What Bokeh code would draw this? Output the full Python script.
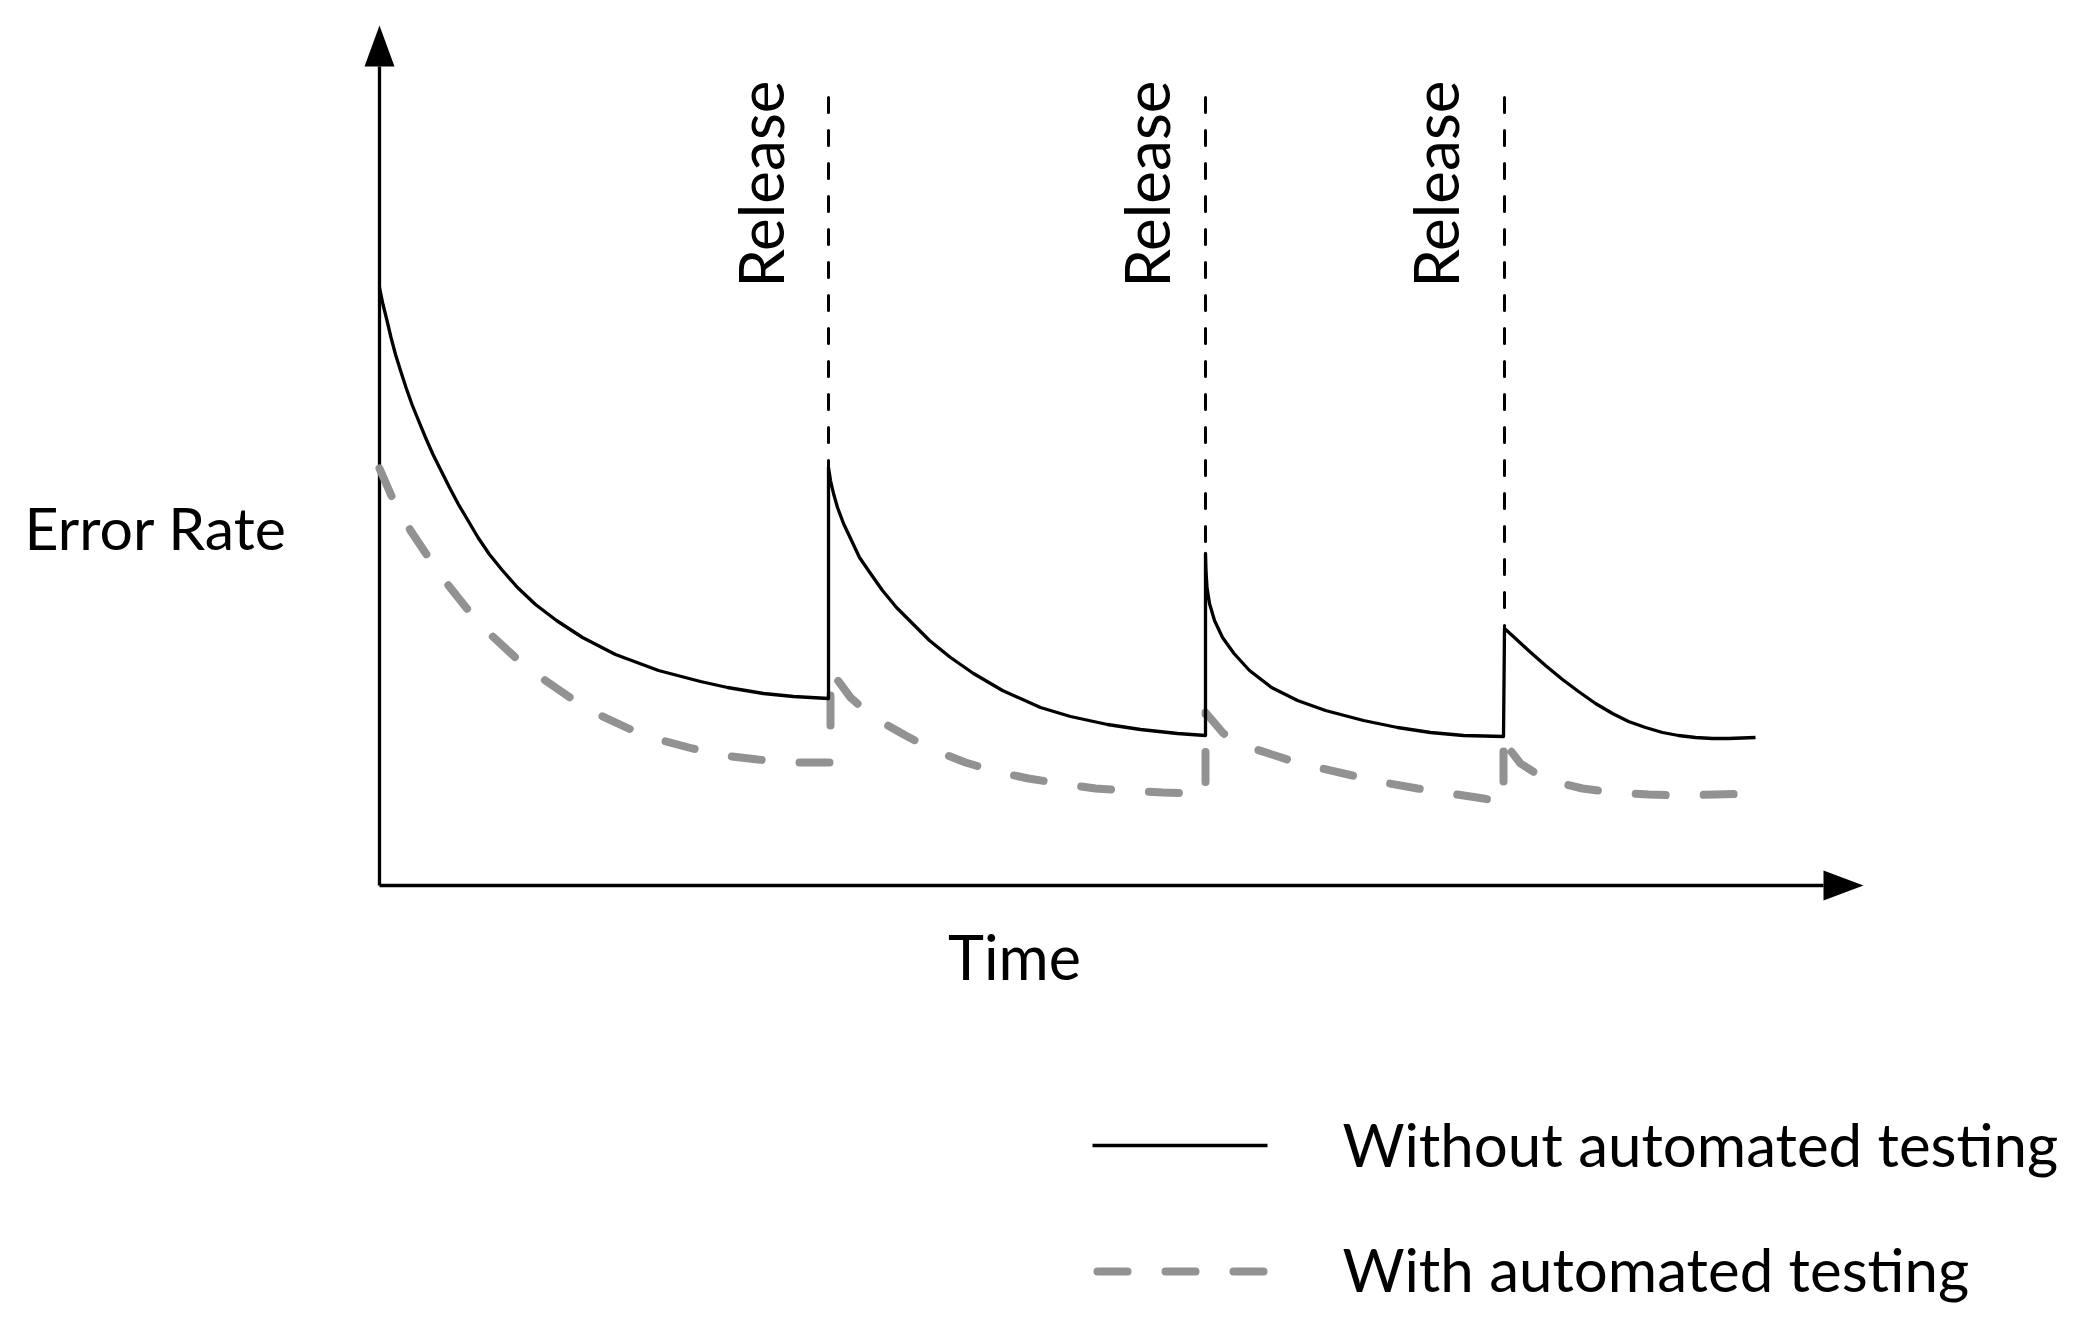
import math
from bokeh.plotting import figure
from bokeh.models import Range1d
from bokeh.embed import file_html
from bokeh.resources import INLINE
from bokeh.core.properties import value

# ---------------- data (time units, error-rate units) ----------------
t_without = [0.00, 0.035, 0.075, 0.115, 0.16, 0.21, 0.265, 0.325, 0.39, 0.46, 0.535, 0.615, 0.70, 0.79,
             0.885, 0.985, 1.10, 1.23, 1.38, 1.56, 1.77, 2.03, 2.36, 2.79, 3.21, 3.48, 3.84, 4.14, 4.49,
             4.49, 4.51, 4.54, 4.58, 4.64, 4.72, 4.80, 4.91, 5.03, 5.17, 5.33, 5.50, 5.71, 5.94,
             6.23, 6.61, 6.91, 7.28, 7.61, 7.98, 8.26,
             8.26, 8.265, 8.275, 8.30, 8.35, 8.43, 8.545, 8.70, 8.92, 9.18, 9.46, 9.84, 10.18, 10.51,
             10.84, 11.24,
             11.25, 11.36, 11.49, 11.66, 11.83, 11.99, 12.16, 12.33, 12.49, 12.66, 12.83, 12.99,
             13.16, 13.33, 13.49, 13.76]
e_without = [5.98, 5.81, 5.65, 5.48, 5.31, 5.15, 4.98, 4.81, 4.65, 4.48, 4.31, 4.15, 3.98, 3.81,
             3.65, 3.48, 3.31, 3.15, 2.98, 2.81, 2.65, 2.48, 2.31, 2.15, 2.04, 1.98, 1.92, 1.89, 1.87,
             4.18, 4.05, 3.92, 3.78, 3.62, 3.45, 3.28, 3.12, 2.95, 2.78, 2.62, 2.45, 2.28, 2.12,
             1.95, 1.78, 1.69, 1.61, 1.56, 1.52, 1.50,
             3.32, 3.15, 2.98, 2.82, 2.65, 2.48, 2.32, 2.15, 1.98, 1.85, 1.75, 1.65, 1.58, 1.53,
             1.50, 1.49,
             2.57, 2.47, 2.35, 2.20, 2.06, 1.94, 1.82, 1.72, 1.64, 1.58, 1.53, 1.50,
             1.48, 1.47, 1.47, 1.48]

t_with = [0.00, 0.14, 0.31, 0.49, 0.69, 0.89, 1.11, 1.36, 1.63, 1.89, 2.19, 2.49, 2.79, 3.13, 3.44, 3.78, 4.11, 4.51,
          4.51, 4.71, 4.94, 5.26, 5.53, 5.86, 6.16, 6.49, 6.81, 7.16, 7.48, 7.83, 8.26,
          8.26, 8.44, 8.74, 9.08, 9.38, 9.73, 10.04, 10.38, 10.71, 11.04, 11.24,
          11.24, 11.31, 11.41, 11.66, 12.03, 12.33, 12.69, 12.99, 13.36, 13.76]
e_with = [4.17, 3.85, 3.55, 3.28, 3.00, 2.75, 2.51, 2.28, 2.07, 1.89, 1.71, 1.57, 1.46, 1.37, 1.30, 1.26, 1.23, 1.23,
          2.15, 1.88, 1.68, 1.50, 1.36, 1.23, 1.14, 1.07, 1.02, 0.97, 0.95, 0.93, 0.92,
          1.73, 1.52, 1.37, 1.26, 1.18, 1.10, 1.03, 0.97, 0.92, 0.87, 0.83,
          1.52, 1.35, 1.22, 1.06, 0.97, 0.93, 0.91, 0.90, 0.91, 0.92]

release_t = [4.49, 8.26, 11.25]
release_peak = [4.18, 3.32, 2.57]
release_top = 7.88
release_text = "Release"

y_label = "Error Rate"
x_label = "Time"
legend_labels = ["Without automated testing", "With automated testing"]

# ---------------- layout ----------------
W, H = 2067, 1321
PX = 100.0                 # pixels per data unit
OX, OY = 379, 885          # axis origin on the page (px)


def sx(px):
    return (px - OX) / PX


def sy(py):
    return (OY - py) / PX


FONT = "Lato"
BLACK = "#000000"
GREY = "#929292"
SHIFT = 0.42               # empirical baseline compensation (em)

p = figure(width=W, height=H, output_backend="svg", toolbar_location=None,
           x_axis_type=None, y_axis_type=None, min_border=0,
           x_range=Range1d(sx(0), sx(W)), y_range=Range1d(sy(H), sy(0)))
p.grid.visible = False
p.outline_line_color = None
p.background_fill_color = "white"
p.border_fill_color = "white"

# axes with arrow heads
p.line([0, 0], [0, sy(66)], line_color=BLACK, line_width=3.3)
p.line([0, sx(1823)], [0, 0], line_color=BLACK, line_width=3.3)
p.patch([sx(379 - 15), sx(379 + 15), 0], [sy(66), sy(66), sy(25)], fill_color=BLACK, line_color=None)
p.patch([sx(1823), sx(1823), sx(1863)], [sy(885 - 15), sy(885 + 15), 0], fill_color=BLACK, line_color=None)

# release markers
p.segment(x0=release_t, y0=[release_top] * len(release_t), x1=release_t, y1=release_peak,
          line_color=BLACK, line_width=3, line_dash="15 18", line_cap="round")

# series
p.line(t_with, e_with, line_color=GREY, line_width=8, line_dash="30 38",
       line_cap="round", line_join="round")
p.line(t_without, e_without, line_color=BLACK, line_width=3.3, line_join="round")

# release labels (rotated, baseline on the right)
fs_rel = 62
label_off_px = [-42, -33, -43]
p.text(x=[r + (o - SHIFT * fs_rel) / PX for r, o in zip(release_t, label_off_px)], y=[sy(80)] * 3,
       text=[release_text] * 3, angle=math.pi / 2,
       text_align="right", text_baseline="alphabetic",
       text_font=value(FONT), text_font_size=f"{fs_rel}px", text_color=BLACK)

# axis titles
fs_y, fs_x = 59, 61
p.text(x=[sx(24)], y=[sy(552 - SHIFT * fs_y)], text=[y_label], text_align="left",
       text_baseline="alphabetic", text_font=value(FONT), text_font_size=f"{fs_y}px", text_color=BLACK)
p.text(x=[sx(1014)], y=[sy(982 - SHIFT * fs_x)], text=[x_label], text_align="center",
       text_baseline="alphabetic", text_font=value(FONT), text_font_size=f"{fs_x}px", text_color=BLACK)

# legend (manual)
fs_leg = 60
p.line([sx(1092), sx(1267)], [sy(1145)] * 2, line_color=BLACK, line_width=3.3)
p.line([sx(1097), sx(1263)], [sy(1271)] * 2, line_color=GREY, line_width=8, line_dash="30 38",
       line_cap="round")
p.text(x=[sx(1342)] * 2, y=[sy(1169 - SHIFT * fs_leg), sy(1294 - SHIFT * fs_leg)], text=legend_labels,
       text_align="left", text_baseline="alphabetic",
       text_font=value(FONT), text_font_size=f"{fs_leg}px", text_color=BLACK)

open("out.html", "w").write(file_html(p, INLINE))
